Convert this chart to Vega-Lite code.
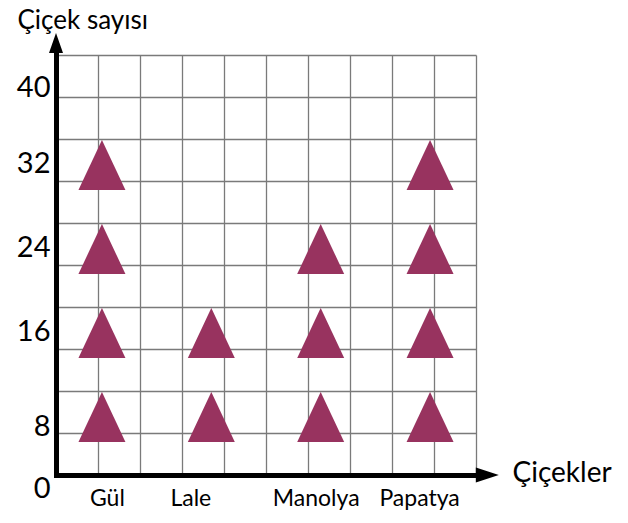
{
  "$schema": "https://vega.github.io/schema/vega-lite/v6.json",
  "autosize": {"type": "none"},
  "padding": {"left": 56, "top": 55, "right": 152, "bottom": 48},
  "width": 420,
  "height": 420,
  "background": "white",
  "config": {"view": {"stroke": null}, "font": "Lato"},
  "datasets": {
    "icons": [
      {"flower": "Gül", "value": 8},
      {"flower": "Gül", "value": 16},
      {"flower": "Gül", "value": 24},
      {"flower": "Gül", "value": 32},
      {"flower": "Lale", "value": 8},
      {"flower": "Lale", "value": 16},
      {"flower": "Manolya", "value": 8},
      {"flower": "Manolya", "value": 16},
      {"flower": "Manolya", "value": 24},
      {"flower": "Papatya", "value": 8},
      {"flower": "Papatya", "value": 16},
      {"flower": "Papatya", "value": 24},
      {"flower": "Papatya", "value": 32}
    ],
    "arrows": [
      {"axis": "x", "xv": 10.27, "yv": 0},
      {"axis": "y", "xv": 0, "yv": 41.14}
    ]
  },
  "layer": [
    {
      "data": {"name": "arrows"},
      "layer": [
        {
          "transform": [{"filter": "datum.axis === 'x'"}],
          "mark": {"type": "point", "shape": "M-1,-0.65L1,0L-1,0.65Z", "filled": true, "color": "black", "size": 529, "opacity": 1},
          "encoding": {
            "x": {"field": "xv", "type": "quantitative", "scale": {"domain": [0, 10], "nice": false, "zero": false},
              "axis": {"orient": "bottom", "values": [0,1,2,3,4,5,6,7,8,9,10], "grid": true, "gridColor": "#7a7a7a", "gridWidth": 1.3, "gridOpacity": 1, "labels": false, "ticks": false, "domain": true, "domainColor": "black", "domainWidth": 5, "domainCap": "square", "title": null}},
            "y": {"field": "yv", "type": "quantitative", "scale": {"domain": [0, 40], "nice": false, "zero": false},
              "axis": {"orient": "left", "values": [0,4,8,12,16,20,24,28,32,36,40], "grid": true, "gridColor": "#7a7a7a", "gridWidth": 1.3, "gridOpacity": 1, "ticks": false, "domain": true, "domainColor": "black", "domainWidth": 5, "domainCap": "square", "labelExpr": "datum.value % 8 === 0 ? datum.label : ''", "labelOffset": {"condition": [{"test": "datum.value === 0", "value": 13}, {"test": "datum.value === 8", "value": 35}, {"test": "datum.value === 40", "value": 32}], "value": 24}, "labelFontSize": 29, "labelPadding": 6, "labelColor": "black", "labelFont": "Lato", "title": "Çiçek sayısı", "titleAngle": 0, "titleX": -39, "titleY": -27, "titleAlign": "left", "titleBaseline": "alphabetic", "titleFontSize": 26, "titleFontWeight": "normal", "titleColor": "black", "titleFont": "Lato"}}
          }
        },
        {
          "transform": [{"filter": "datum.axis === 'y'"}],
          "mark": {"type": "point", "shape": "M0,-1L0.7,1L-0.7,1Z", "filled": true, "color": "black", "size": 400, "opacity": 1},
          "encoding": {
            "x": {"field": "xv", "type": "quantitative", "scale": {"domain": [0, 10], "nice": false, "zero": false},
              "axis": {"orient": "bottom", "values": [0,1,2,3,4,5,6,7,8,9,10], "grid": true, "gridColor": "#7a7a7a", "gridWidth": 1.3, "gridOpacity": 1, "labels": false, "ticks": false, "domain": true, "domainColor": "black", "domainWidth": 5, "domainCap": "square", "title": null}},
            "y": {"field": "yv", "type": "quantitative", "scale": {"domain": [0, 40], "nice": false, "zero": false},
              "axis": {"orient": "left", "values": [0,4,8,12,16,20,24,28,32,36,40], "grid": true, "gridColor": "#7a7a7a", "gridWidth": 1.3, "gridOpacity": 1, "ticks": false, "domain": true, "domainColor": "black", "domainWidth": 5, "domainCap": "square", "labelExpr": "datum.value % 8 === 0 ? datum.label : ''", "labelOffset": {"condition": [{"test": "datum.value === 0", "value": 13}, {"test": "datum.value === 8", "value": 35}, {"test": "datum.value === 40", "value": 32}], "value": 24}, "labelFontSize": 29, "labelPadding": 6, "labelColor": "black", "labelFont": "Lato", "title": "Çiçek sayısı", "titleAngle": 0, "titleX": -39, "titleY": -27, "titleAlign": "left", "titleBaseline": "alphabetic", "titleFontSize": 26, "titleFontWeight": "normal", "titleColor": "black", "titleFont": "Lato"}}
          }
        }
      ]
    },
    {
      "data": {"name": "icons"},
      "mark": {"type": "point", "shape": "M0,-1L0.94,1L-0.94,1Z", "filled": true, "color": "#98335f", "size": 2500, "opacity": 1, "yOffset": 26},
      "encoding": {
        "x": {"field": "flower", "type": "nominal", "sort": ["Gül", "Lale", "Manolya", "Papatya"],
          "scale": {"type": "point", "padding": 0.42, "domain": ["Gül", "Lale", "Manolya", "Papatya"]},
          "axis": {"orient": "bottom", "domain": false, "ticks": false, "grid": false, "labelAngle": 0, "labelFontSize": 23, "labelPadding": 12, "labelOffset": {"condition": [{"test": "datum.value === 'Gül'", "value": 5}, {"test": "datum.value === 'Lale'", "value": -21}, {"test": "datum.value === 'Manolya'", "value": -5}], "value": -11}, "labelColor": "black", "labelFont": "Lato", "title": "Çiçekler", "titleX": 456, "titleY": 6, "titleAlign": "left", "titleBaseline": "alphabetic", "titleFontSize": 28, "titleFontWeight": "normal", "titleColor": "black", "titleFont": "Lato"}},
        "y": {"field": "value", "type": "quantitative", "scale": {"domain": [0, 40], "nice": false, "zero": false},
          "axis": {"orient": "left", "values": [0,4,8,12,16,20,24,28,32,36,40], "grid": true, "gridColor": "#7a7a7a", "gridWidth": 1.3, "gridOpacity": 1, "ticks": false, "domain": true, "domainColor": "black", "domainWidth": 5, "domainCap": "square", "labelExpr": "datum.value % 8 === 0 ? datum.label : ''", "labelOffset": {"condition": [{"test": "datum.value === 0", "value": 13}, {"test": "datum.value === 8", "value": 35}, {"test": "datum.value === 40", "value": 32}], "value": 24}, "labelFontSize": 29, "labelPadding": 6, "labelColor": "black", "labelFont": "Lato", "title": "Çiçek sayısı", "titleAngle": 0, "titleX": -39, "titleY": -27, "titleAlign": "left", "titleBaseline": "alphabetic", "titleFontSize": 26, "titleFontWeight": "normal", "titleColor": "black", "titleFont": "Lato"}}
      }
    }
  ],
  "resolve": {"scale": {"x": "independent"}, "axis": {"x": "independent"}}
}
